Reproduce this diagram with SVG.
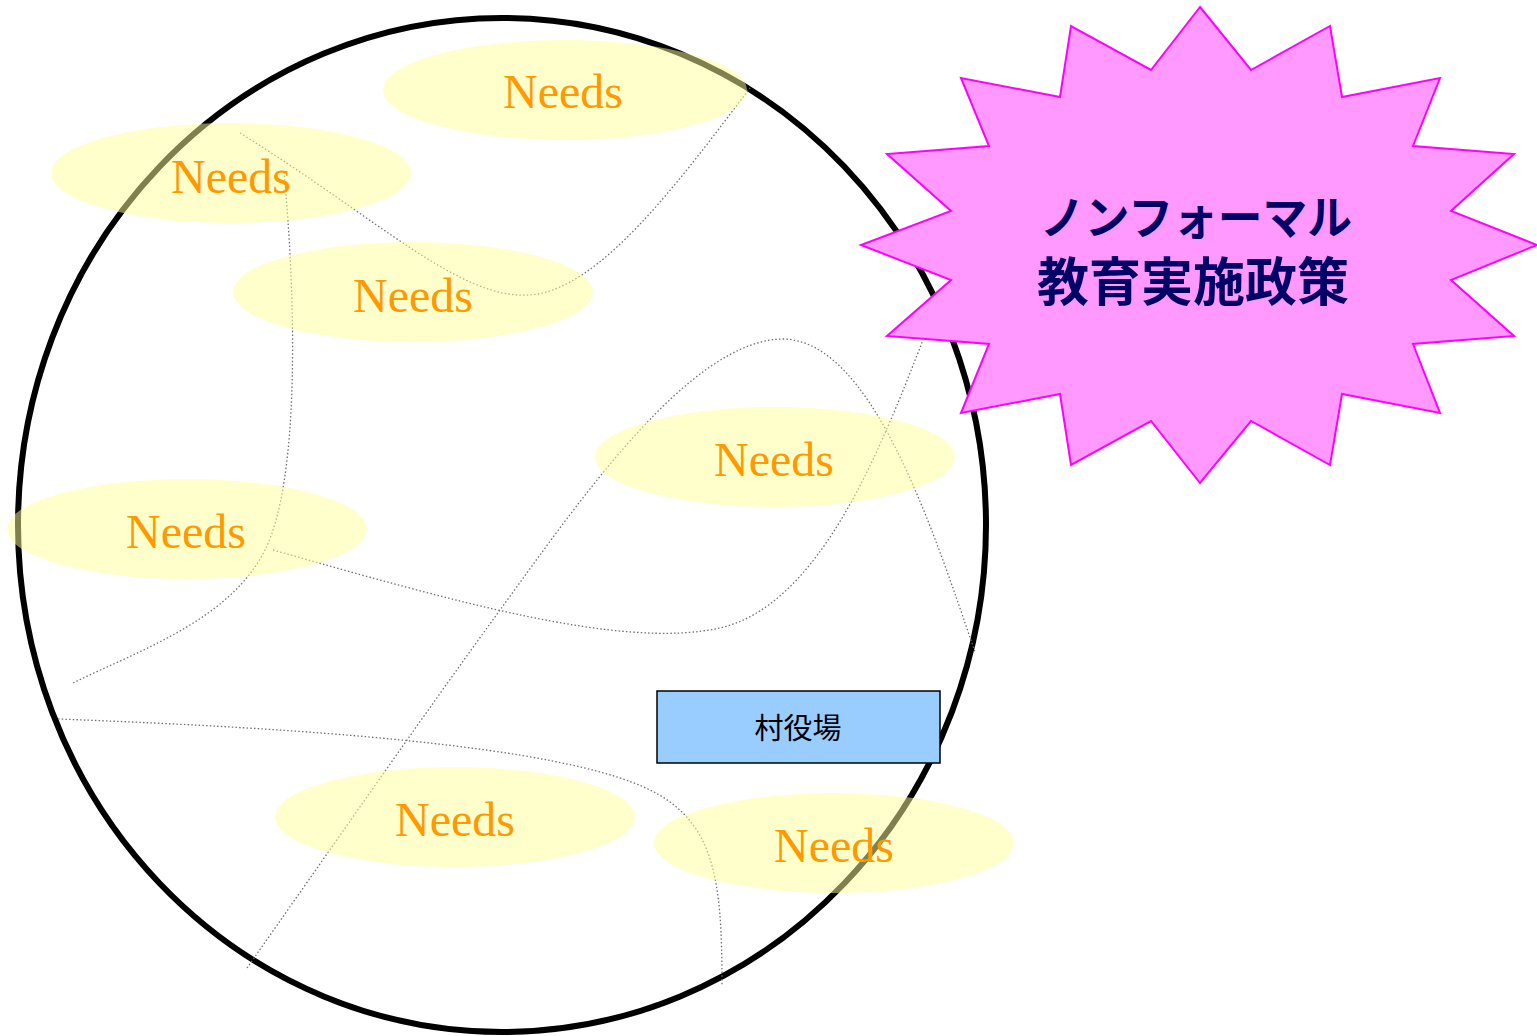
<svg xmlns="http://www.w3.org/2000/svg" width="1537" height="1036" viewBox="0 0 1537 1036">
<style>
.conn{fill:none;stroke:#707070;stroke-width:1.3;stroke-dasharray:1.5 2.2}
.need{fill:#ffff99;fill-opacity:0.5}
.needt{font-family:"Liberation Serif","Times New Roman",serif;font-size:48px;fill:#ff9900;text-anchor:middle}
.jp{font-family:"Noto Sans CJK JP","Noto Sans CJK SC",sans-serif}
</style>
<rect width="1537" height="1036" fill="#ffffff"/>
<g id="village-circle">
<ellipse cx="502" cy="525" rx="484" ry="507" fill="none" stroke="#000" stroke-width="6"/>
</g>
<g id="connectors">
<path class="conn" d="M240,133 C380,220 460,300 530,295 C600,290 680,180 750,88"/>
<path class="conn" d="M284,172 C296,300 300,480 265,550 C230,620 140,650 73,683"/>
<path class="conn" d="M273,550 C450,600 620,650 720,628 C820,605 880,450 923,340"/>
<path class="conn" d="M247,968 C330,850 420,720 500,610 C580,500 690,340 783,339 C870,340 930,520 975,652"/>
<path class="conn" d="M58,719 C300,728 560,745 650,790 C715,822 722,880 722,985"/>
</g>
<g id="needs-1"><ellipse class="need" cx="565" cy="90" rx="182" ry="50"/><text class="needt" x="563" y="108">Needs</text></g>
<g id="needs-2"><ellipse class="need" cx="231" cy="173" rx="180" ry="50"/><text class="needt" x="231" y="193">Needs</text></g>
<g id="needs-3"><ellipse class="need" cx="413" cy="292" rx="180" ry="50"/><text class="needt" x="413" y="312">Needs</text></g>
<g id="needs-4"><ellipse class="need" cx="775" cy="457" rx="180" ry="50"/><text class="needt" x="774" y="476">Needs</text></g>
<g id="needs-5"><ellipse class="need" cx="187" cy="529" rx="180" ry="50"/><text class="needt" x="186" y="548">Needs</text></g>
<g id="needs-6"><ellipse class="need" cx="455" cy="817" rx="180" ry="50"/><text class="needt" x="455" y="836">Needs</text></g>
<g id="needs-7"><ellipse class="need" cx="834" cy="843" rx="180" ry="50"/><text class="needt" x="834" y="862">Needs</text></g>
<g id="village-office">
<rect x="657" y="691" width="283" height="72" fill="#99ccff" stroke="#000" stroke-width="1.5"/>
<text class="jp" x="798" y="739" font-size="29" text-anchor="middle" fill="#000">村役場</text>
</g>
<g id="policy-burst">
<polygon points="1200,7 1251,70 1330,26 1342,97 1440,78 1413,146 1514,154 1451,211 1537,245 1451,280 1514,336 1413,344 1440,413 1342,394 1330,465 1251,421 1200,483 1151,421 1071,465 1060,394 961,413 989,344 887,336 951,280 861,245 951,211 887,154 989,146 961,78 1060,97 1071,26 1151,70" fill="#ff99ff" stroke="#ff00ff" stroke-width="2"/>
<text class="jp" x="1196" y="234" font-size="46" font-weight="bold" fill="#000066" text-anchor="middle" textLength="312" lengthAdjust="spacingAndGlyphs">ノンフォーマル</text>
<text class="jp" x="1193" y="301" font-size="52" font-weight="bold" fill="#000066" text-anchor="middle">教育実施政策</text>
</g>
</svg>
